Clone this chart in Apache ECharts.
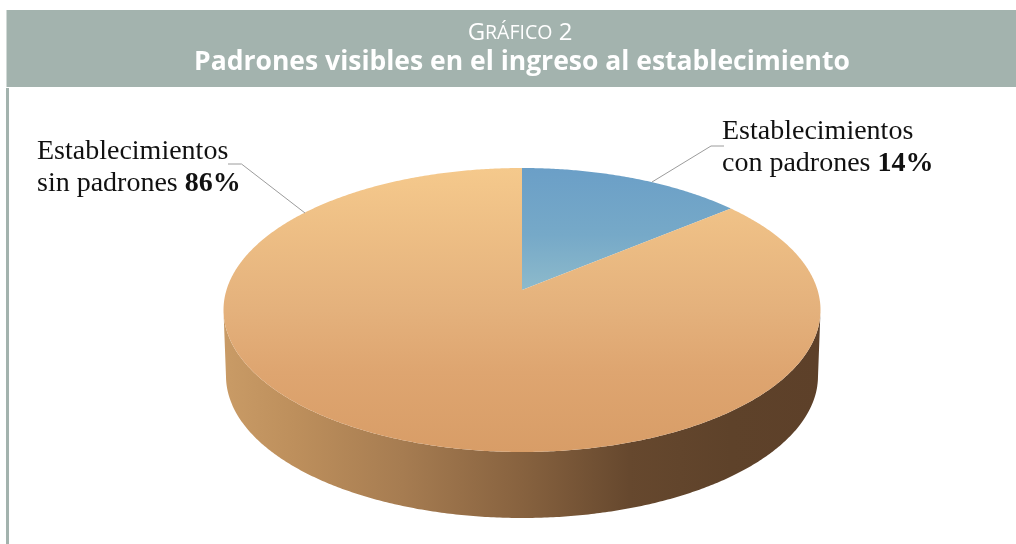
<!DOCTYPE html>
<html><head><meta charset="utf-8">
<style>html,body{margin:0;padding:0;background:#fff}#c{width:1016px;height:544px}</style>
<script src="https://cdn.jsdelivr.net/npm/echarts@6/dist/echarts.min.js"></script>
</head><body><div id="c"></div>
<script>
const figureLabel = ['G', 'RÁFICO', ' 2'];
const chartTitle = 'Padrones visibles en el ingreso al establecimiento';
const categories = ['Establecimientos con padrones', 'Establecimientos sin padrones'];
const labelLine1 = ['Establecimientos', 'Establecimientos'];
const labelLine2 = ['con padrones ', 'sin padrones '];
const values = [14, 86];

const total = values.reduce((a, b) => a + b, 0);
const cx = 522, cy = 310, rx = 298.5, ry = 142, persp = 0.141, depth = 66, lowerRx = 296;
const BAND = '#a3b3ae';

// perspective projection of the tilted disc: theta measured clockwise from 12 o'clock
function project(theta, r) {
  const x = r * Math.sin(theta), y = r * Math.cos(theta);
  const d = 1 + persp * y;
  return [x * Math.sqrt(1 - persp * persp) / d, (y + persp) / d];
}
const G = echarts.graphic;
const faceFill = [
  new G.LinearGradient(0, 0, 0, 1, [{offset: 0, color: '#6b9fc7'}, {offset: .55, color: '#76a9c8'}, {offset: 1, color: '#8dbacb'}]),
  new G.LinearGradient(0, 0, 0, 1, [{offset: 0, color: '#f5c98c'}, {offset: .5, color: '#e4b17c'}, {offset: .72, color: '#dea570'}, {offset: 1, color: '#d89d67'}])
];
const wallFill = new G.LinearGradient(0, 0, 1, 0, [
  {offset: 0, color: '#c99b66'}, {offset: .12, color: '#bd8f5c'}, {offset: .3, color: '#a67c51'},
  {offset: .5, color: '#87623f'}, {offset: .68, color: '#66482e'}, {offset: .85, color: '#5e422a'}, {offset: 1, color: '#5d4029'}
]);
const labelPos = [[722, 116], [37, 136]];
const leaders = [[[724, 146], [711, 146], [652, 182]], [[228, 164], [241.5, 164], [305, 213]]];

function renderItem(params, api) {
  const i = params.dataIndex;
  const before = values.slice(0, i).reduce((a, b) => a + b, 0);
  const t0 = before / total * 2 * Math.PI, t1 = (before + api.value(0)) / total * 2 * Math.PI;
  const face = [project(0, 0)].map(p => [cx + rx * p[0], cy - ry * p[1]]);
  const upper = [], lower = [];
  const n = Math.ceil((t1 - t0) / (Math.PI / 360));
  for (let k = 0; k <= n; k++) {
    const p = project(t0 + (t1 - t0) * k / n, 1);
    face.push([cx + rx * p[0], cy - ry * p[1]]);
    if (p[1] <= 0) {
      upper.push([cx + rx * p[0], cy - ry * p[1]]);
      lower.push([cx + lowerRx * p[0], cy + depth - ry * p[1]]);
    }
  }
  const children = [];
  if (upper.length) {
    children.push({type: 'polygon', shape: {points: upper.concat(lower.reverse())}, style: {fill: wallFill}});
  }
  children.push({type: 'polygon', shape: {points: face}, style: {fill: faceFill[i]}});
  children.push({type: 'polyline', shape: {points: leaders[i]}, style: {fill: 'none', stroke: '#9c9c9c', lineWidth: 1}});
  children.push({type: 'text', style: {
    x: labelPos[i][0], y: labelPos[i][1],
    text: labelLine1[i] + '\n{n|' + labelLine2[i] + '}{b|' + Math.round(api.value(0) / total * 100) + '%}',
    fontFamily: 'Liberation Serif', fontSize: 28, fill: '#111', lineHeight: 32,
    rich: {n: {fontFamily: 'Liberation Serif', fontSize: 28, lineHeight: 32, fill: '#111'},
           b: {fontFamily: 'Liberation Serif', fontSize: 28, lineHeight: 32, fontWeight: 'bold', fill: '#111'}}
  }});
  return {type: 'group', children};
}

const chart = echarts.init(document.getElementById('c'), null, {renderer: 'canvas'});
chart.setOption({
  animation: false,
  backgroundColor: '#fff',
  title: [
    {text: '{l|' + figureLabel[0] + '}{s|' + figureLabel[1] + '}{l|' + figureLabel[2] + '}', left: 515, top: 16, textAlign: 'center',
     textStyle: {fontWeight: 'normal', rich: {l: {fontFamily: 'Open Sans', fontSize: 24, fontWeight: 'normal', color: '#fff'}, s: {fontFamily: 'Open Sans', fontSize: 19.5, fontWeight: 'normal', color: '#fff'}}}},
    {text: chartTitle, left: 517, top: 44, textAlign: 'center',
     textStyle: {fontFamily: 'Open Sans', fontSize: 26.5, fontWeight: 'bold', color: '#fff'}}
  ],
  graphic: [
    {type: 'rect', z: -1, shape: {x: 6.5, y: 10, width: 1010, height: 77}, style: {fill: BAND}},
    {type: 'rect', z: -1, shape: {x: 6, y: 88, width: 3, height: 456}, style: {fill: BAND}}
  ],
  series: [{
    type: 'custom', coordinateSystem: 'none', renderItem,
    data: categories.map((name, i) => ({name, value: [values[i]]}))
  }]
});
</script></body></html>
